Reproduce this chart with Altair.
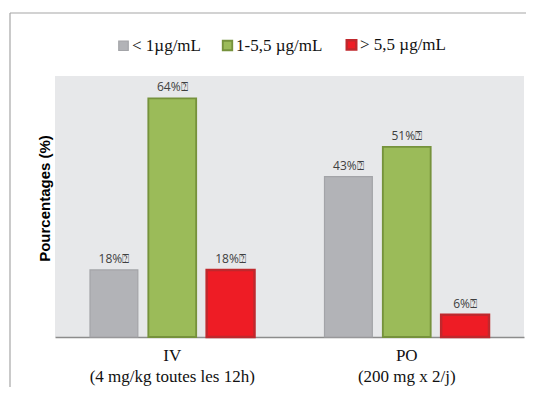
import altair as alt
import pandas as pd

groups = ["IV|(4 mg/kg toutes les 12h)", "PO|(200 mg x 2/j)"]
categories = ["< 1µg/mL", "1-5,5 µg/mL", "> 5,5 µg/mL"]
iv_values = [18, 64, 18]
po_values = [43, 51, 6]
fill_colors = ["#b2b3b7", "#9bbb59", "#ee1c25"]
stroke_colors = ["#a3a4a8", "#76923c", "#c0282d"]

rows = []
for g, vals in zip(groups, [iv_values, po_values]):
    for c, v in zip(categories, vals):
        rows.append({"group": g, "cat": c, "value": v, "label": f"{v}%\u2370"})
df = pd.DataFrame(rows)

x_enc = alt.X("group:N", sort=groups, title=None,
              scale=alt.Scale(paddingInner=0, paddingOuter=0),
              axis=alt.Axis(labelExpr="split(datum.label, '|')", labelAngle=0,
                            labelFont="Liberation Serif", labelFontSize=17,
                            labelColor="#111", labelLineHeight=21, labelPadding=10,
                            ticks=False, domainColor="#8c8c8c", domainWidth=1.5))
xoff = alt.XOffset("cat:N", sort=categories,
                   scale=alt.Scale(paddingInner=0.18, paddingOuter=0.6))
y_enc = alt.Y("value:Q", scale=alt.Scale(domain=[0, 70], nice=False),
              axis=alt.Axis(labels=False, ticks=False, domain=False, grid=False,
                            title="Pourcentages (%)", titleFont="Liberation Sans",
                            titleFontSize=15, titleFontWeight="bold", titleColor="#000",
                            titleX=-11, titleY=122, titleAlign="center",
                            titleBaseline="middle"))

legend_cfg = dict(title=None, orient="none", direction="horizontal",
                  legendX=60, legendY=-40, symbolType="square",
                  symbolSize=90, symbolStrokeWidth=1.5,
                  labelFont="Liberation Serif", labelFontSize=17,
                  labelColor="#111", labelOffset=0,
                  columnPadding=18, symbolOffset=0)

base = alt.Chart(df)

bars = base.mark_bar().encode(
    x=x_enc,
    xOffset=xoff,
    y=y_enc,
    fill=alt.Fill("cat:N", sort=categories,
                  scale=alt.Scale(domain=categories, range=fill_colors),
                  legend=alt.Legend(**legend_cfg)),
    stroke=alt.Stroke("cat:N", sort=categories,
                      scale=alt.Scale(domain=categories, range=stroke_colors),
                      legend=alt.Legend(**legend_cfg)),
    strokeWidth=alt.StrokeWidth("cat:N", sort=categories,
                                scale=alt.Scale(domain=categories, range=[1.2, 2.5, 1.2]),
                                legend=None),
)

texts = base.mark_text(dy=-11, font="Open Sans", fontSize=12, color="#404040").encode(
    x=alt.X("group:N", sort=groups),
    xOffset=xoff,
    y=alt.Y("value:Q"),
    text="label:N",
)

frame_df = pd.DataFrame({"a": [0]})
frame_top = alt.Chart(frame_df).mark_rule(stroke="#a6a6a6", strokeWidth=1.2).encode(
    x=alt.value(-45), x2=alt.value(600), y=alt.value(-63))
frame_left = alt.Chart(frame_df).mark_rule(stroke="#a6a6a6", strokeWidth=1.2).encode(
    x=alt.value(-45), y=alt.value(-63), y2=alt.value(400))

chart = alt.layer(frame_top, frame_left, bars, texts).properties(
    width=469, height=261,
    background="white",
    autosize=alt.AutoSizeParams(type="none"),
    padding={"left": 47, "top": 68, "right": 2, "bottom": 50},
).configure_view(stroke=None, fill="#e7e8ea")

chart.save("out.html", embed_options={"renderer": "svg", "actions": False})
